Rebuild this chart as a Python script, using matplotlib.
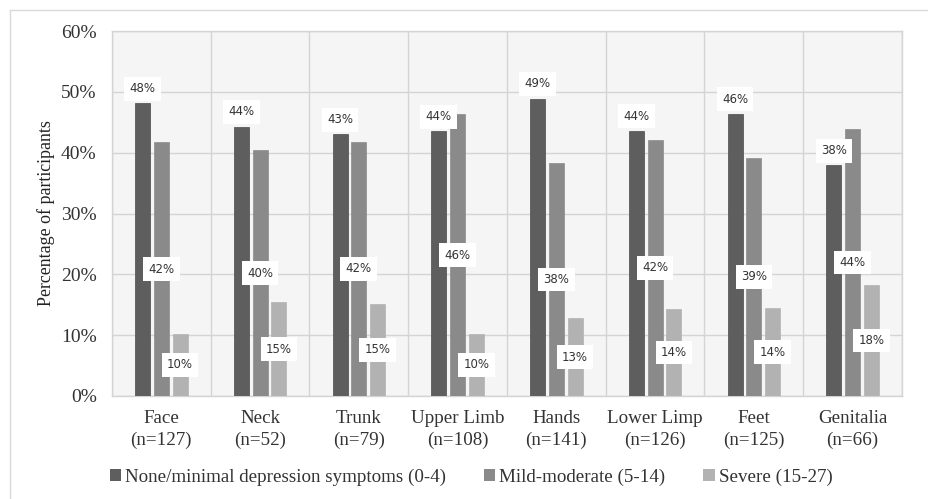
import matplotlib
matplotlib.use("Agg")
import matplotlib.pyplot as plt
import numpy as np
from matplotlib.patches import Rectangle
from matplotlib.lines import Line2D

categories = ["Face\n(n=127)", "Neck\n(n=52)", "Trunk\n(n=79)", "Upper Limb\n(n=108)",
              "Hands\n(n=141)", "Lower Limp\n(n=126)", "Feet\n(n=125)", "Genitalia\n(n=66)"]
none_minimal = [48.1, 44.3, 43.0, 43.5, 48.9, 43.6, 46.4, 37.9]
mild_moderate = [41.7, 40.4, 41.8, 46.3, 38.3, 42.1, 39.2, 43.9]
severe = [10.2, 15.4, 15.2, 10.2, 12.8, 14.3, 14.4, 18.2]
none_labels = ["48%", "44%", "43%", "44%", "49%", "44%", "46%", "38%"]
mild_labels = ["42%", "40%", "42%", "46%", "38%", "42%", "39%", "44%"]
severe_labels = ["10%", "15%", "15%", "10%", "13%", "14%", "14%", "18%"]
series_names = ["None/minimal depression symptoms (0-4)", "Mild-moderate (5-14)", "Severe (15-27)"]
colors = ["#5e5e5e", "#8a8a8a", "#b2b2b2"]

plt.rcParams['font.family'] = ['Liberation Serif', 'DejaVu Serif']
plt.rcParams['hatch.color'] = '#d6d6d6'
plt.rcParams['hatch.linewidth'] = 0.6

fig = plt.figure(figsize=(9.29, 4.99), dpi=100)
ax = fig.add_axes([112/929, 1-396/499, 790/929, 365/499])

# hatched background
ax.add_patch(Rectangle((0, 0), 1, 1, transform=ax.transAxes, facecolor='#f5f5f5',
                       edgecolor='none', hatch='\\\\\\\\', zorder=0))

x = np.arange(len(categories))
w = 0.15
off = 0.19
data = [none_minimal, mild_moderate, severe]
labels = [none_labels, mild_labels, severe_labels]
for i, (vals, labs, c) in enumerate(zip(data, labels, colors)):
    xs = x + (i - 1) * off
    ax.bar(xs, vals, width=w, color=c, edgecolor='#4a4a4a' if i == 0 else c,
           linewidth=0.5, zorder=3)
    for xi, v, lab in zip(xs, vals, labs):
        if i == 0:
            y = v + 2.4
        else:
            y = v / 2
        ax.text(xi, y, lab, ha='center', va='center', fontsize=8.5, color='#333333',
                family=['DejaVu Sans'], zorder=5,
                bbox=dict(boxstyle='square,pad=0.45', facecolor='white', edgecolor='none'))

ax.set_xlim(-0.5, len(categories) - 0.5)
ax.set_ylim(0, 60)
ax.set_yticks(np.arange(0, 61, 10))
ax.set_yticklabels([f"{t}%" for t in range(0, 61, 10)], fontsize=14, color='#333333')
ax.set_xticks(x)
ax.set_xticklabels(categories, fontsize=13.7, color='#333333', linespacing=1.35)
ax.tick_params(axis='y', length=0, pad=11)
ax.tick_params(axis='x', length=0, pad=10)
ax.set_ylabel("Percentage of participants", fontsize=12.9, color='#222222', labelpad=4)

ax.grid(axis='y', color='#d4d4d4', linewidth=1, zorder=1)
for b in np.arange(-0.5, len(categories), 1.0):
    ax.axvline(b, color='#d4d4d4', linewidth=1, zorder=1)
for s in ax.spines.values():
    s.set_color('#d4d4d4')
    s.set_linewidth(1)

handles = [Rectangle((0, 0), 1, 1, facecolor=c, edgecolor='none') for c in colors]
fig.legend(handles, series_names, loc='center', bbox_to_anchor=(471/929, 1-477/499),
           ncol=3, frameon=False, fontsize=13.7, handlelength=0.6, handleheight=0.6,
           handletextpad=0.2, columnspacing=2.0, labelcolor='#333333')

# outer border lines
fig.add_artist(Line2D([10/929, 1], [1-10/499, 1-10/499], transform=fig.transFigure,
                      color='#d9d9d9', linewidth=1))
fig.add_artist(Line2D([10/929, 10/929], [0, 1-10/499], transform=fig.transFigure,
                      color='#d9d9d9', linewidth=1))

fig.savefig("out.png", dpi=100)
